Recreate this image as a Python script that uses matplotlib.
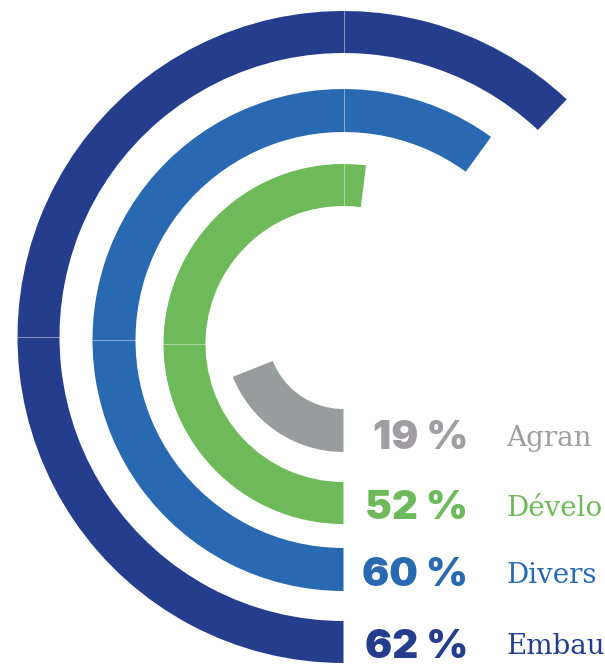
import matplotlib
matplotlib.use("Agg")
import matplotlib.pyplot as plt
from matplotlib.patches import Wedge

# ---- data ----
percent_values = [19, 52, 60, 62]
number_labels = ["19 %", "52 %", "60 %", "62 %"]
categories = ["Agran", "Dévelo", "Divers", "Embau"]  # visible part of the labels

# ---- styles ----
bar_colors = ["#999c9d", "#6eb95a", "#2969b1", "#243d8c"]
text_colors = ["#a09ea2", "#6eb95a", "#2969b1", "#243d8c"]

# ---- layout (pixel coordinates) ----
W, H = 605, 665
cx = 343.5
centers_y = [333, 344, 340, 337]
r_outer = [119, 180, 251, 326]
ring_w = [43, 42, 43, 42]
num_baseline = [449, 519, 586, 658]
lab_baseline = [446, 516, 583, 654]
num_x = 468
lab_x = 506

fig = plt.figure(figsize=(W / 100, H / 100), dpi=100)
ax = fig.add_axes([0, 0, 1, 1])
ax.set_xlim(0, W)
ax.set_ylim(H, 0)
ax.set_aspect("auto")
ax.axis("off")

for i, v in enumerate(percent_values):
    theta1 = 90.0
    theta2 = 90.0 + v * 3.6
    ax.add_patch(Wedge((cx, centers_y[i]), r_outer[i], theta1, theta2,
                       width=ring_w[i], facecolor=bar_colors[i],
                       edgecolor="none", antialiased=True))
    # faint seams of the original artwork
    cy = centers_y[i]
    if theta2 > 180:
        ax.plot([cx - r_outer[i], cx - r_outer[i] + ring_w[i]], [cy, cy],
                color="white", lw=0.7, alpha=0.45)
    if theta2 > 272:
        ax.plot([cx, cx], [cy - r_outer[i], cy - r_outer[i] + ring_w[i]],
                color="white", lw=0.7, alpha=0.45)

for i in range(len(percent_values)):
    ax.text(num_x, num_baseline[i], number_labels[i], ha="right", va="baseline",
            fontsize=29, fontweight="black", family=["Inter", "DejaVu Sans"],
            color=text_colors[i])
    ax.text(lab_x, lab_baseline[i], categories[i], ha="left", va="baseline",
            fontsize=20, family=["DejaVu Serif"], color=text_colors[i])

fig.savefig("out.png", dpi=100, facecolor="white")
